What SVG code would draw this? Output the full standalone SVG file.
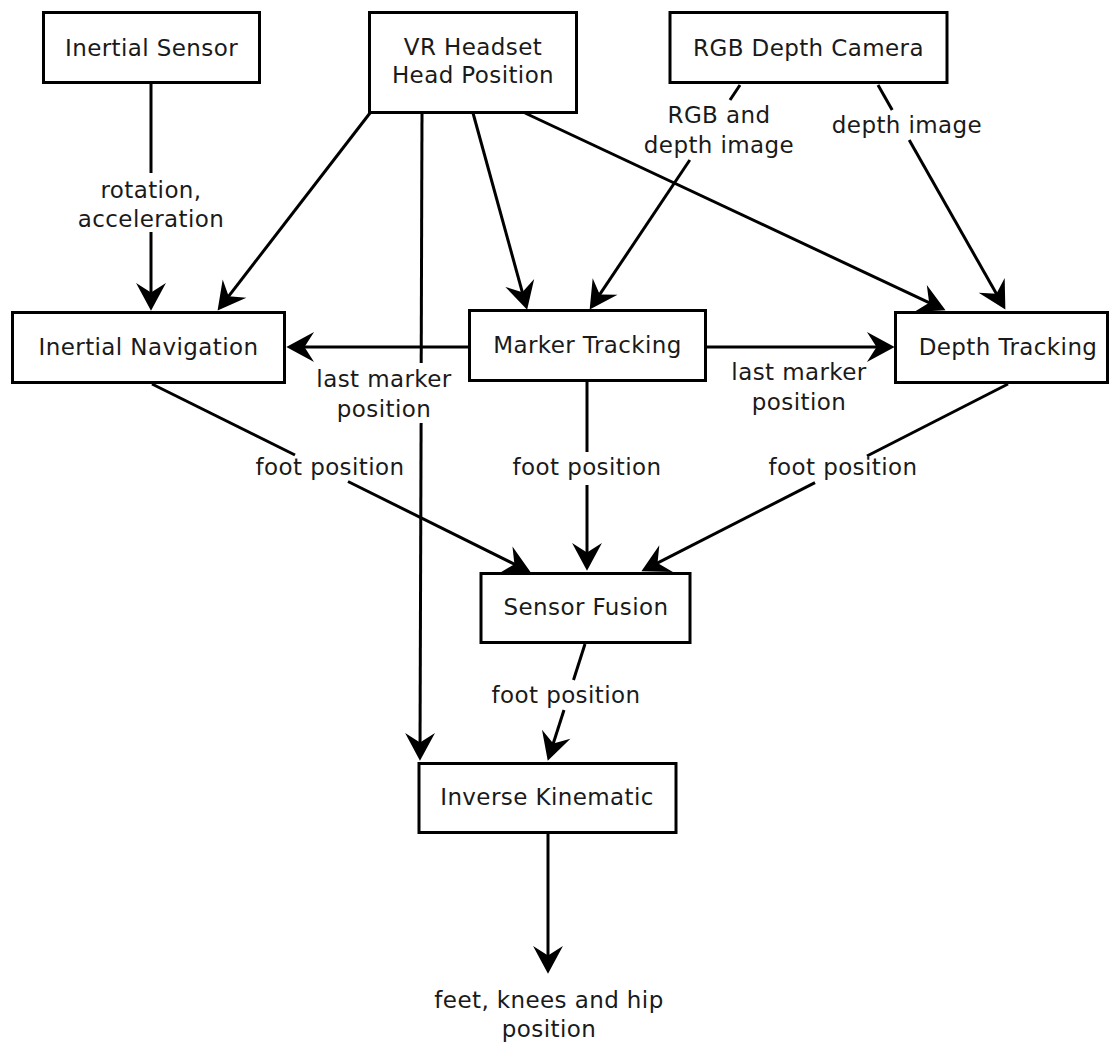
<svg xmlns="http://www.w3.org/2000/svg" width="1111" height="1044" viewBox="0 0 1111 1044">
<style>
.box{fill:#fff;stroke:#000;stroke-width:3}
.t{font-family:"DejaVu Sans",sans-serif;font-size:23px;letter-spacing:0.4px;fill:#1a1a1a;text-anchor:middle}
.c{fill:none;stroke:#000;stroke-width:3}
.a{marker-end:url(#arr)}
</style>
<defs>
<marker id="arr" markerUnits="userSpaceOnUse" markerWidth="30" markerHeight="32" viewBox="0 -15 27 30" refX="16" refY="0" orient="auto">
<path d="M26,0 L0,-14 L9,0 L0,14 Z" fill="#000"/>
</marker>
</defs>
<rect width="1111" height="1044" fill="#fff"/>
<g id="connectors">
<path class="c" d="M151,83 L151,173"/>
<path class="c a" d="M151,232 L151,300"/>
<path class="c a" d="M370,113 L224.1,302.1"/>
<path class="c" d="M422,113 L421.2,363"/>
<path class="c a" d="M421.1,423 L420,750"/>
<path class="c a" d="M473,113 L524.3,299.4"/>
<path class="c a" d="M525,113 L935.9,305.8"/>
<path class="c" d="M740,85 L730,100"/>
<path class="c a" d="M689.8,160 L595.6,300.7"/>
<path class="c" d="M878,85 L892.2,110"/>
<path class="c a" d="M909.2,140 L1000.1,300.3"/>
<path class="c a" d="M469,347 L297,347"/>
<path class="c a" d="M706,347 L884,347"/>
<path class="c" d="M152,384 L295,455"/>
<path class="c a" d="M348,481.5 L521.1,567.5"/>
<path class="c" d="M587,381 L587,452"/>
<path class="c a" d="M587,485 L587,560"/>
<path class="c" d="M1008,384 L867,456"/>
<path class="c a" d="M815,482.6 L650.9,566.4"/>
<path class="c" d="M585,644 L573.5,680"/>
<path class="c a" d="M564,710 L551,750.5"/>
<path class="c a" d="M548,833 L548,963"/>
</g>
<g id="labels">
<text class="t" x="151" y="198">rotation,</text>
<text class="t" x="151" y="227">acceleration</text>
<text class="t" x="719" y="123">RGB and</text>
<text class="t" x="719" y="153">depth image</text>
<text class="t" x="907" y="133">depth image</text>
<text class="t" x="384" y="387">last marker</text>
<text class="t" x="384" y="417">position</text>
<text class="t" x="799" y="380">last marker</text>
<text class="t" x="799" y="410">position</text>
<text class="t" x="330" y="475">foot position</text>
<text class="t" x="587" y="475">foot position</text>
<text class="t" x="843" y="475">foot position</text>
<text class="t" x="566" y="703">foot position</text>
<text class="t" x="549" y="1008">feet, knees and hip</text>
<text class="t" x="549" y="1037">position</text>
</g>
<g id="inertial-sensor"><rect class="box" x="43.5" y="12.5" width="216" height="70"/><text class="t" x="151.5" y="55.5">Inertial Sensor</text></g>
<g id="vr-headset"><rect class="box" x="369.5" y="12.5" width="207" height="100"/><text class="t" x="473" y="55">VR Headset</text><text class="t" x="473" y="83">Head Position</text></g>
<g id="rgb-depth-camera"><rect class="box" x="670" y="12.5" width="277" height="70"/><text class="t" x="808.5" y="55.5">RGB Depth Camera</text></g>
<g id="inertial-navigation"><rect class="box" x="12.5" y="312.5" width="272" height="70"/><text class="t" x="148.5" y="355">Inertial Navigation</text></g>
<g id="marker-tracking"><rect class="box" x="469.5" y="310.5" width="236" height="70"/><text class="t" x="587.5" y="353">Marker Tracking</text></g>
<g id="depth-tracking"><rect class="box" x="895.5" y="312.5" width="212" height="70"/><text class="t" x="1008" y="355">Depth Tracking</text></g>
<g id="sensor-fusion"><rect class="box" x="481" y="573.5" width="209" height="69"/><text class="t" x="586" y="615">Sensor Fusion</text></g>
<g id="inverse-kinematic"><rect class="box" x="419" y="763.5" width="257" height="69"/><text class="t" x="547" y="805">Inverse Kinematic</text></g>
</svg>
